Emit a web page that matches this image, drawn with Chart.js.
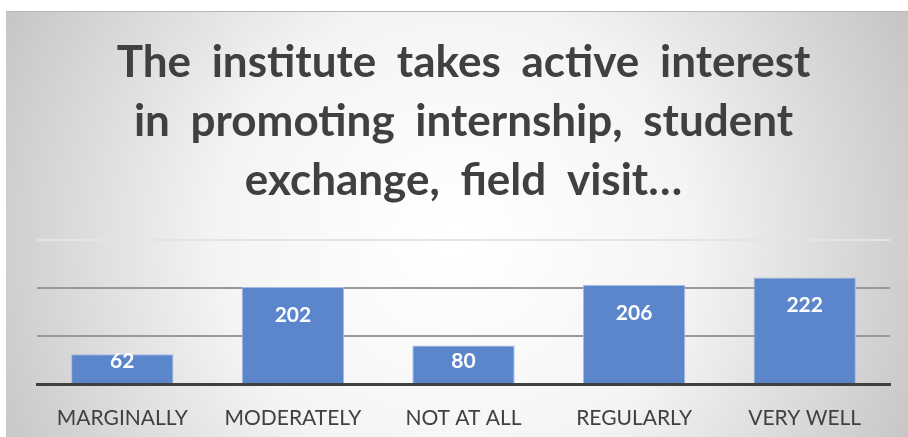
<!DOCTYPE html>
<html>
<head>
<meta charset="utf-8">
<script src="https://cdn.jsdelivr.net/npm/chart.js@4.4.0/dist/chart.umd.min.js"></script>
<style>
  html, body { margin: 0; padding: 0; background: #fff; }
  #wrap { width: 908px; height: 437px; }
</style>
</head>
<body>
<div id="wrap"><canvas id="chart"></canvas></div>
<script>
// Data
const categories = ['MARGINALLY', 'MODERATELY', 'NOT AT ALL', 'REGULARLY', 'VERY WELL'];
const responses = [62, 202, 80, 206, 222];
const titleLines = ['The institute takes active interest', 'in promoting internship, student', 'exchange, field visit…'];

// background panel with radial grey gradient
const panelBg = {
  id: 'panelBg',
  beforeDraw(chart) {
    const ctx = chart.ctx;
    const w = chart.width, h = chart.height;
    ctx.save();
    const g = ctx.createRadialGradient(w / 2, h * 0.55, 20, w / 2, h * 0.55, w * 0.55);
    g.addColorStop(0, '#ffffff');
    g.addColorStop(0.45, '#f4f4f4');
    g.addColorStop(1, '#c6c6c6');
    ctx.fillStyle = g;
    ctx.fillRect(6, 11, w - 6, h - 11);
    ctx.strokeStyle = '#b8b8b8';
    ctx.lineWidth = 1;
    ctx.beginPath();
    ctx.moveTo(6, 11.5);
    ctx.lineTo(w, 11.5);
    ctx.stroke();
    ctx.restore();

    // wide word spacing for title only
    const tb = chart.titleBlock;
    if (tb && !tb._spaced) {
      const orig = tb.draw.bind(tb);
      tb.draw = function () {
        chart.ctx.wordSpacing = '10px';
        orig();
        chart.ctx.wordSpacing = '0px';
      };
      tb._spaced = true;
    }
  }
};

// value labels inside bar ends
const barLabels = {
  id: 'barLabels',
  afterDatasetsDraw(chart) {
    const ctx = chart.ctx;
    const meta = chart.getDatasetMeta(0);
    ctx.save();
    ctx.fillStyle = '#ffffff';
    ctx.font = 'bold 21px Lato, "Open Sans", sans-serif';
    ctx.textAlign = 'center';
    ctx.textBaseline = 'middle';
    meta.data.forEach((bar, i) => {
      const y = Math.min(bar.y + 28, bar.base - 22);
      ctx.fillText(String(chart.data.datasets[0].data[i]), bar.x, y);
    });
    ctx.restore();
  }
};

new Chart(document.getElementById('chart'), {
  type: 'bar',
  data: {
    labels: categories,
    datasets: [{
      data: responses,
      backgroundColor: '#5b86cb',
      borderColor: '#a3bde6',
      borderWidth: 1,
      categoryPercentage: 1,
      barPercentage: 0.6
    }]
  },
  options: {
    responsive: true,
    maintainAspectRatio: false,
    animation: false,
    layout: { padding: { left: 37, right: 18, top: 0, bottom: 0 } },
    plugins: {
      legend: { display: false },
      tooltip: { enabled: false },
      title: {
        display: true,
        text: titleLines,
        color: '#404040',
        font: { family: 'Lato, "Open Sans", sans-serif', size: 44, weight: 'bold', lineHeight: 59 / 44 },
        padding: { top: 33, bottom: 30 }
      }
    },
    scales: {
      x: {
        grid: { display: false, drawTicks: false },
        border: { display: true, color: '#404040', width: 3 },
        ticks: { color: '#404040', font: { family: 'Lato, "Open Sans", sans-serif', size: 21 }, padding: 22, maxRotation: 0 },
        afterFit(scale) { scale.height = 53; }
      },
      y: {
        min: 0,
        max: 300,
        ticks: { display: false, stepSize: 100 },
        border: { display: false },
        grid: {
          drawTicks: false,
          lineWidth: 2,
          color: (c) => c.tick.value === 300 ? '#e4e4e4' : '#999999'
        }
      }
    }
  },
  plugins: [panelBg, barLabels]
});
</script>
</body>
</html>
